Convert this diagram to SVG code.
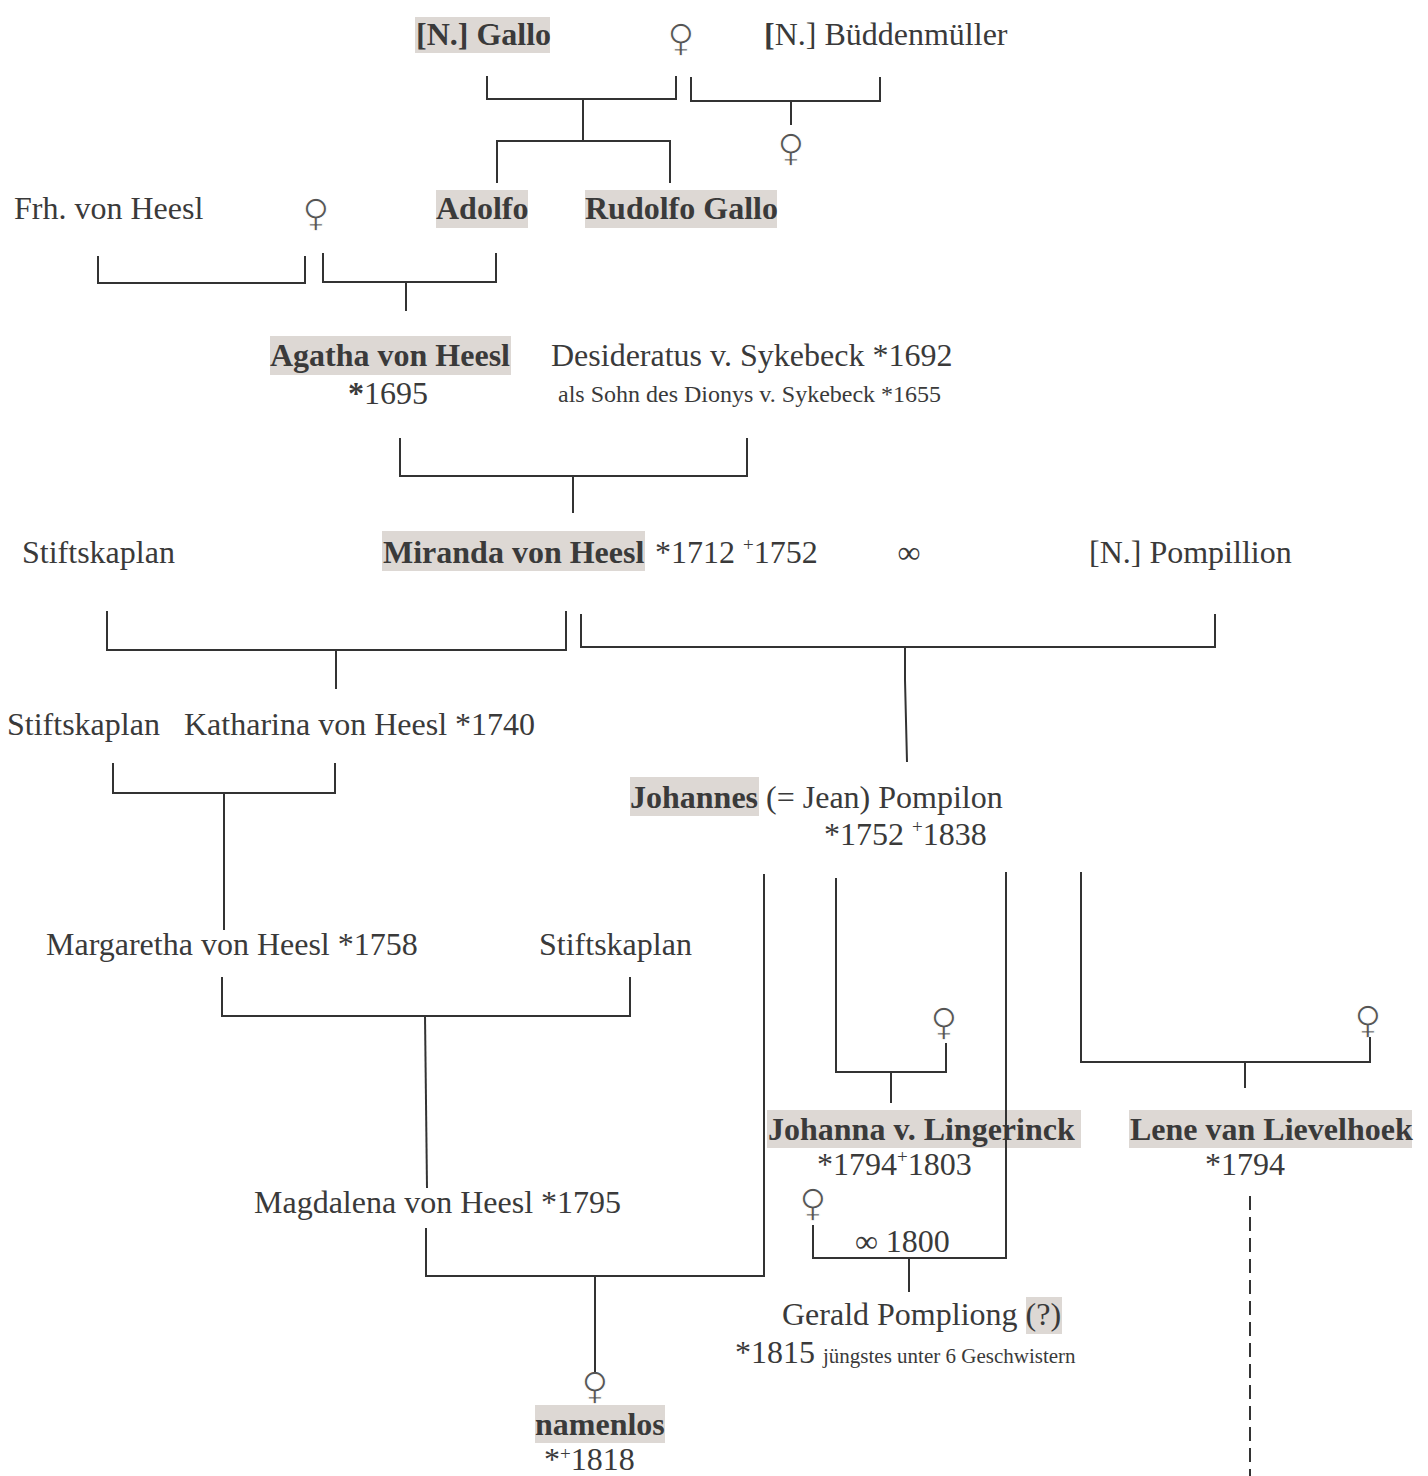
<svg xmlns="http://www.w3.org/2000/svg" width="1428" height="1476" viewBox="0 0 1428 1476">
<style>
text{font-family:"Liberation Serif","Times New Roman",serif;fill:#3a3a3a;font-size:32px}
.b{font-weight:bold}
.s{font-size:24px}
.xs{font-size:21px}
.sup{font-size:19px}
.hl{fill:#ddd8d4}
.fem{font-family:"DejaVu Sans",sans-serif;font-size:38px;fill:#555;stroke:#fff;stroke-width:1.1px;text-anchor:middle}
.c{fill:none;stroke:#333;stroke-width:2}
.d{fill:none;stroke:#333;stroke-width:2;stroke-dasharray:14 7}
</style>
<rect width="1428" height="1476" fill="#fff"/>
<g id="n-gallo"><rect class="hl" x="415" y="17" width="135" height="36"/><text class="b" x="416" y="45">[N.] Gallo</text></g>
<g id="n-fem1"><text class="fem" x="681" y="51">♀</text></g>
<g id="n-bueddenmueller"><text x="764" y="45"><tspan class="b">[</tspan>N.] Büddenmüller</text></g>
<g id="n-fem2"><text class="fem" x="791" y="161">♀</text></g>
<g id="n-frh-heesl"><text x="14" y="219">Frh. von Heesl</text></g>
<g id="n-fem3"><text class="fem" x="316" y="226">♀</text></g>
<g id="n-adolfo"><rect class="hl" x="436" y="190" width="92" height="38"/><text class="b" x="436" y="219">Adolfo</text></g>
<g id="n-rudolfo"><rect class="hl" x="585" y="190" width="192" height="38"/><text class="b" x="585" y="219">Rudolfo Gallo</text></g>
<g id="n-agatha"><rect class="hl" x="270" y="336" width="241" height="39"/><text class="b" x="270" y="366">Agatha von Heesl</text><text x="348" y="404"><tspan class="b">*</tspan>1695</text></g>
<g id="n-desideratus"><text x="551" y="366">Desideratus v. Sykebeck *1692</text><text class="s" x="558" y="402">als Sohn des Dionys v. Sykebeck *1655</text></g>
<g id="n-stiftskaplan1"><text x="22" y="563">Stiftskaplan</text></g>
<g id="n-miranda"><rect class="hl" x="382" y="531" width="263" height="40"/><text class="b" x="383" y="563">Miranda von Heesl</text><text x="655" y="563">*1712 <tspan class="sup" dy="-12">+</tspan><tspan dy="12">1752</tspan></text></g>
<g id="n-marriage1"><text x="909" y="563" text-anchor="middle">∞</text></g>
<g id="n-pompillion"><text x="1089" y="563">[N.] Pompillion</text></g>
<g id="n-stiftskaplan2"><text x="7" y="735">Stiftskaplan</text></g>
<g id="n-katharina"><text x="184" y="735">Katharina von Heesl *1740</text></g>
<g id="n-johannes"><rect class="hl" x="630" y="777" width="129" height="39"/><text x="630" y="808"><tspan class="b">Johannes</tspan> (= Jean) Pompilon</text><text x="824" y="845">*1752 <tspan class="sup" dy="-12">+</tspan><tspan dy="12">1838</tspan></text></g>
<g id="n-margaretha"><text x="46" y="955">Margaretha von Heesl *1758</text></g>
<g id="n-stiftskaplan3"><text x="539" y="955">Stiftskaplan</text></g>
<g id="n-fem4"><text class="fem" x="944" y="1035">♀</text></g>
<g id="n-fem5"><text class="fem" x="1368" y="1033">♀</text></g>
<g id="n-johanna"><rect class="hl" x="767" y="1110" width="314" height="38"/><text class="b" x="768" y="1140">Johanna v. Lingerinck</text><text x="817" y="1175">*1794<tspan class="sup" dy="-12">+</tspan><tspan dy="12">1803</tspan></text></g>
<g id="n-lene"><rect class="hl" x="1129" y="1110" width="283" height="38"/><text class="b" x="1130" y="1140">Lene van Lievelhoek</text><text x="1205" y="1175">*1794</text></g>
<g id="n-magdalena"><text x="254" y="1213">Magdalena von Heesl *1795</text></g>
<g id="n-fem6"><text class="fem" x="813" y="1216">♀</text></g>
<g id="n-marriage2"><text x="855" y="1252">∞ 1800</text></g>
<g id="n-gerald"><rect class="hl" x="1026" y="1297" width="36" height="37"/><text x="782" y="1325">Gerald Pompliong (?)</text><text x="735" y="1363">*1815 <tspan class="xs">jüngstes unter 6 Geschwistern</tspan></text></g>
<g id="n-fem7"><text class="fem" x="595" y="1399">♀</text></g>
<g id="n-namenlos"><rect class="hl" x="535" y="1405" width="130" height="38"/><text class="b" x="535" y="1435">namenlos</text><text x="544" y="1470">*<tspan class="sup" dy="-10">+</tspan><tspan dy="10">1818</tspan></text></g>
<g id="connectors">
<polyline class="c" points="487,76 487,99 676,99 676,76"/>
<line class="c" x1="583" y1="99" x2="583" y2="141"/>
<polyline class="c" points="497,183 497,141 670,141 670,183"/>
<polyline class="c" points="691,77 691,101 880,101 880,77"/>
<line class="c" x1="791" y1="101" x2="791" y2="125"/>
<polyline class="c" points="98,256 98,283 305,283 305,256"/>
<polyline class="c" points="323,253 323,282 496,282 496,253"/>
<line class="c" x1="406" y1="282" x2="406" y2="311"/>
<polyline class="c" points="400,438 400,476 747,476 747,438"/>
<line class="c" x1="573" y1="476" x2="573" y2="513"/>
<polyline class="c" points="107,611 107,650 566,650 566,611"/>
<line class="c" x1="336" y1="650" x2="336" y2="689"/>
<polyline class="c" points="581,614 581,647 1215,647 1215,614"/>
<polyline class="c" points="905,647 905,680 907,762"/>
<polyline class="c" points="113,763 113,793 335,793 335,763"/>
<line class="c" x1="224" y1="793" x2="224" y2="930"/>
<polyline class="c" points="222,977 222,1016 630,1016 630,977"/>
<line class="c" x1="425" y1="1016" x2="427" y2="1188"/>
<polyline class="c" points="426,1228 426,1276 764,1276 764,874"/>
<line class="c" x1="595" y1="1276" x2="595" y2="1372"/>
<polyline class="c" points="836,878 836,1072 946,1072 946,1043"/>
<line class="c" x1="891" y1="1072" x2="891" y2="1103"/>
<polyline class="c" points="813,1225 813,1258 1006,1258 1006,872"/>
<line class="c" x1="909" y1="1258" x2="909" y2="1292"/>
<polyline class="c" points="1081,872 1081,1062 1370,1062 1370,1037"/>
<line class="c" x1="1245" y1="1062" x2="1245" y2="1088"/>
<line class="d" x1="1250" y1="1196" x2="1250" y2="1476"/>
</g>
</svg>
